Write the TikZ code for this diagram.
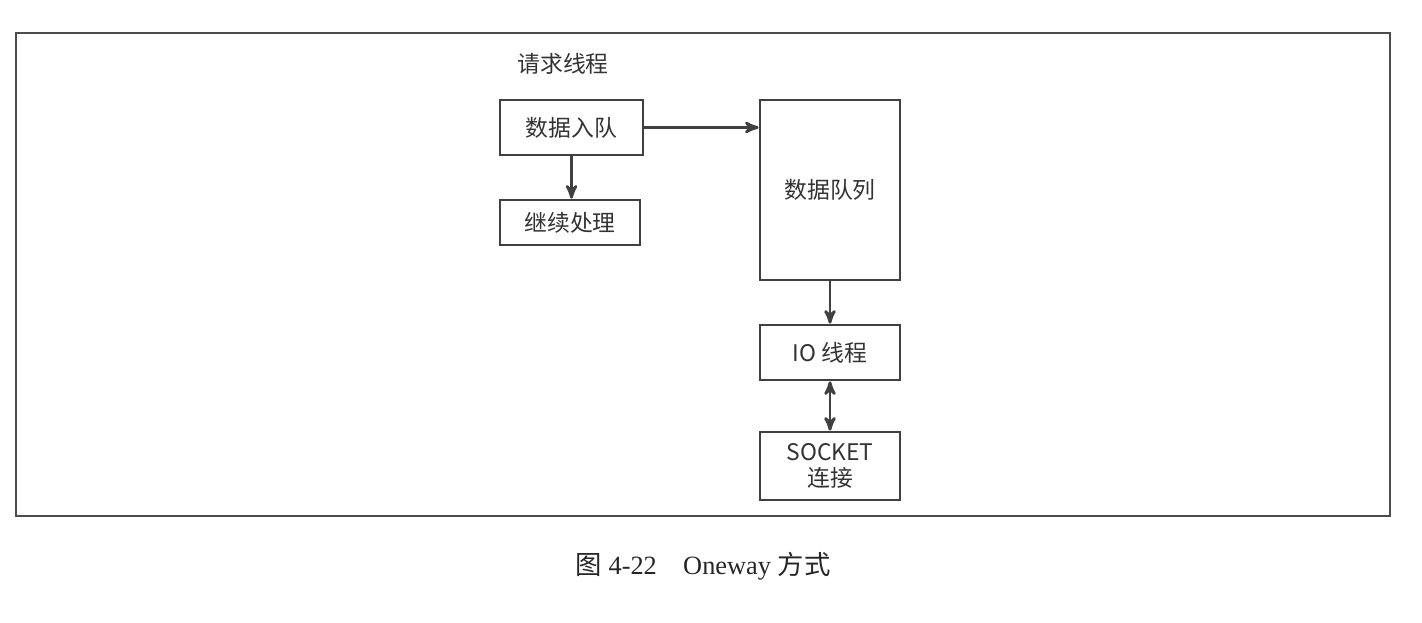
\documentclass[tikz,border=0pt]{standalone}
\usepackage{fontspec}
\setmainfont{Liberation Serif}
\newfontfamily\cjk{Noto Sans CJK SC}
\usetikzlibrary{arrows}
\begin{document}
\begin{tikzpicture}[x=0.02cm,y=-0.02cm,>=stealth',thick,
    box/.style={draw=black!75,line width=1.6pt,inner sep=0pt,font=\cjk\fontsize{13pt}{15pt}\selectfont,text=black!80,align=center},
    link/.style={->,draw=black!75,line width=1.6pt}]
  \useasboundingbox (0,0) rectangle (1422,622);
  \draw[black!70,line width=0.8pt] (16,33) rectangle (1390,516);

  \node[font=\cjk\fontsize{13pt}{15pt}\selectfont,text=black!80] (title) at (563,64) {请求线程};
  \node[box,minimum width=2.86cm,minimum height=1.1cm] (enq) at (571.5,127.5) {数据入队};
  \node[box,minimum width=2.8cm,minimum height=0.9cm] (cont) at (570,222.5) {继续处理};
  \node[box,minimum width=2.8cm,minimum height=3.6cm] (queue) at (830,190) {数据队列};
  \node[box,minimum width=2.8cm,minimum height=1.1cm] (io) at (830,352.5) {IO 线程};
  \node[box,minimum width=2.8cm,minimum height=1.36cm] (sock) at (830,466) {SOCKET\\连接};

  \draw[link] (enq.east) -- (queue.west |- enq.east);
  \draw[link] (enq.south) -- (enq.south |- cont.north);
  \draw[link] (queue.south) -- (io.north);
  \draw[link,<->] (io.south) -- (sock.north);

  \node[font=\fontsize{15pt}{18pt}\selectfont,text=black!85] (cap) at (703,566) {{\cjk 图} 4-22\quad Oneway {\cjk 方式}};
\end{tikzpicture}
\end{document}
